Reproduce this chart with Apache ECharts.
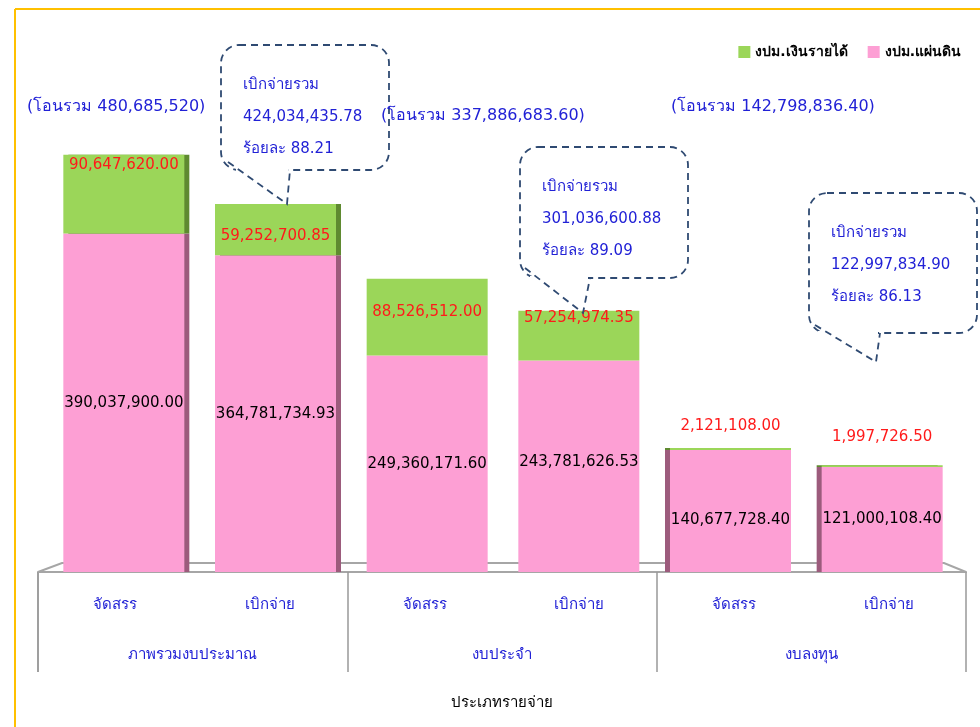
<!DOCTYPE html>
<html>
<head>
<meta charset="utf-8">
<script src="https://cdn.jsdelivr.net/npm/echarts@6/dist/echarts.min.js"></script>
<style>
    html, body { margin: 0; padding: 0; background: #fff; }
    #main { width: 980px; height: 727px; }
</style>
</head>
<body>
<div id="main"></div>
<script>
// ข้อมูล
var categories = ['จัดสรร', 'เบิกจ่าย', 'จัดสรร', 'เบิกจ่าย', 'จัดสรร', 'เบิกจ่าย'];
var groups = ['ภาพรวมงบประมาณ', 'งบประจำ', 'งบลงทุน'];
var landBudget = [390037900.00, 364781734.93, 249360171.60, 243781626.53, 140677728.40, 121000108.40];
var incomeBudget = [90647620.00, 59252700.85, 88526512.00, 57254974.35, 2121108.00, 1997726.50];
var transferTotals = ['(โอนรวม 480,685,520)', '(โอนรวม 337,886,683.60)', '(โอนรวม 142,798,836.40)'];
var spentTotals = ['424,034,435.78', '301,036,600.88', '122,997,834.90'];
var spentPercent = ['88.21', '89.09', '86.13'];

var FONT = 'Tahoma, "DejaVu Sans", sans-serif';
var BLUE = '#2121d6';
var BOX = '#2f4a72';

function fmt(v) {
    return v.toLocaleString('en-US', { minimumFractionDigits: 2, maximumFractionDigits: 2 });
}

// ตำแหน่งป้ายของแต่ละแท่ง (ตามภาพ)
var greenPos = [
    { position: 'insideTop', distance: 3 },
    { position: 'insideBottom', distance: 12 },
    { position: 'insideTop', distance: 26 },
    { position: 'insideTop', distance: 0 },
    { position: 'top', distance: 14 },
    { position: 'top', distance: 21 }
];
var pinkOffset = [0, 0, 0, -4, 9, 0];
var sideShadow = [5, 5, 0, 0, -5, -5];

function sideStyle(i, dark) {
    return {
        shadowColor: dark,
        shadowBlur: 0,
        shadowOffsetX: sideShadow[i],
        shadowOffsetY: 0
    };
}

var pinkData = landBudget.map(function (v, i) {
    return {
        value: v,
        itemStyle: sideStyle(i, '#9c5b7c'),
        label: { offset: [0, pinkOffset[i]] }
    };
});
var greenData = incomeBudget.map(function (v, i) {
    return {
        value: v,
        itemStyle: sideStyle(i, '#5f8a30'),
        label: greenPos[i]
    };
});

// กล่องข้อความ
var callouts = [
    { x: 221, y: 45, w: 168, h: 125, gap: [236, 290], tail: [[228, 162], [287, 204], [290, 170]] },
    { x: 520, y: 147, w: 168, h: 131, gap: [530, 590], tail: [[525, 268], [583, 313], [590, 278]] },
    { x: 809, y: 193, w: 168, h: 140, gap: [818, 880], tail: [[815, 325], [876, 362], [880, 333]] }
];
var graphics = [
    { type: 'line', shape: { x1: 15, y1: 9, x2: 15, y2: 727 }, style: { stroke: '#ffc000', lineWidth: 2 } },
    { type: 'line', shape: { x1: 15, y1: 9, x2: 980, y2: 9 }, style: { stroke: '#ffc000', lineWidth: 2 } },
    // พื้นสามมิติ
    { type: 'polyline', shape: { points: [[38, 572], [62, 563], [944, 563], [966, 572]] }, style: { stroke: '#a6a6a6', lineWidth: 2, fill: null }, z: 1 },
    { type: 'line', shape: { x1: 38, y1: 572, x2: 38, y2: 672 }, style: { stroke: '#999', lineWidth: 1.5 } }
];
var transferPos = [[27, 99], [381, 108], [671, 99]];
callouts.forEach(function (c, i) {
    graphics.push({
        type: 'rect', z: 10,
        shape: { x: c.x, y: c.y, width: c.w, height: c.h, r: 18 },
        style: { fill: '#fff', stroke: BOX, lineWidth: 1.8, lineDash: [7, 5] }
    });
    graphics.push({
        type: 'line', z: 11,
        shape: { x1: c.gap[0], y1: c.y + c.h, x2: c.gap[1] - 2, y2: c.y + c.h },
        style: { stroke: '#fff', lineWidth: 4 }
    });
    graphics.push({
        type: 'polyline', z: 12,
        shape: { points: c.tail },
        style: { stroke: BOX, lineWidth: 1.8, lineDash: [7, 5], fill: null }
    });
    graphics.push({
        type: 'text', z: 13, left: c.x + 22, top: c.y + 24,
        style: {
            text: 'เบิกจ่ายรวม\n' + spentTotals[i] + '\nร้อยละ ' + spentPercent[i],
            fill: BLUE, font: '15px ' + FONT, lineHeight: 32
        }
    });
});
transferTotals.forEach(function (t, i) {
    graphics.push({
        type: 'text', left: transferPos[i][0], top: transferPos[i][1], z: 20,
        style: { text: t, fill: BLUE, font: '16px ' + FONT }
    });
});

var myChart = echarts.init(document.getElementById('main'));
var option = {
    animation: false,
    backgroundColor: '#fff',
    textStyle: { fontFamily: FONT },
    legend: {
        data: ['งปม.เงินรายได้', 'งปม.แผ่นดิน'],
        right: 14,
        top: 40,
        icon: 'rect',
        itemWidth: 12,
        itemHeight: 12,
        itemGap: 20,
        textStyle: { fontSize: 14, fontWeight: 'bold', color: '#000' }
    },
    grid: [
        // แท่ง (มุมมองสามมิติ แคบกว่าแกนเล็กน้อย)
        { left: 48, right: 22, top: 138, bottom: 155 },
        // แกนหมวดหมู่
        { left: 38, right: 14, top: 138, bottom: 155 }
    ],
    xAxis: [
        {
            type: 'category',
            gridIndex: 0,
            data: categories,
            show: false
        },
        {
            type: 'category',
            gridIndex: 1,
            data: categories,
            axisLine: { lineStyle: { color: '#a6a6a6', width: 2 } },
            axisTick: { show: false },
            axisLabel: { color: BLUE, fontSize: 15, margin: 26 }
        },
        {
            type: 'category',
            gridIndex: 1,
            data: groups,
            position: 'bottom',
            axisLine: { show: false },
            axisTick: { show: true, length: 100, lineStyle: { color: '#999', width: 1.5 } },
            axisLabel: { color: BLUE, fontSize: 15, margin: 76 },
            name: 'ประเภทรายจ่าย',
            nameLocation: 'middle',
            nameGap: 124,
            nameTextStyle: { color: '#000', fontSize: 15 }
        }
    ],
    yAxis: [
        { type: 'value', gridIndex: 0, min: 0, max: 500000000, show: false },
        { type: 'value', gridIndex: 1, min: 0, max: 500000000, show: false }
    ],
    series: [
        {
            name: 'งปม.แผ่นดิน',
            type: 'bar',
            stack: 'total',
            xAxisIndex: 0,
            yAxisIndex: 0,
            barWidth: 121,
            color: '#fd9fd4',
            label: {
                show: true,
                position: 'inside',
                color: '#000',
                fontSize: 15,
                formatter: function (p) { return fmt(p.value); }
            },
            data: pinkData
        },
        {
            name: 'งปม.เงินรายได้',
            type: 'bar',
            stack: 'total',
            xAxisIndex: 0,
            yAxisIndex: 0,
            barWidth: 121,
            color: '#9bd659',
            label: {
                show: true,
                color: '#ff1a1a',
                fontSize: 15,
                formatter: function (p) { return fmt(p.value); }
            },
            data: greenData
        }
    ],
    graphic: graphics
};
myChart.setOption(option);
</script>
</body>
</html>
